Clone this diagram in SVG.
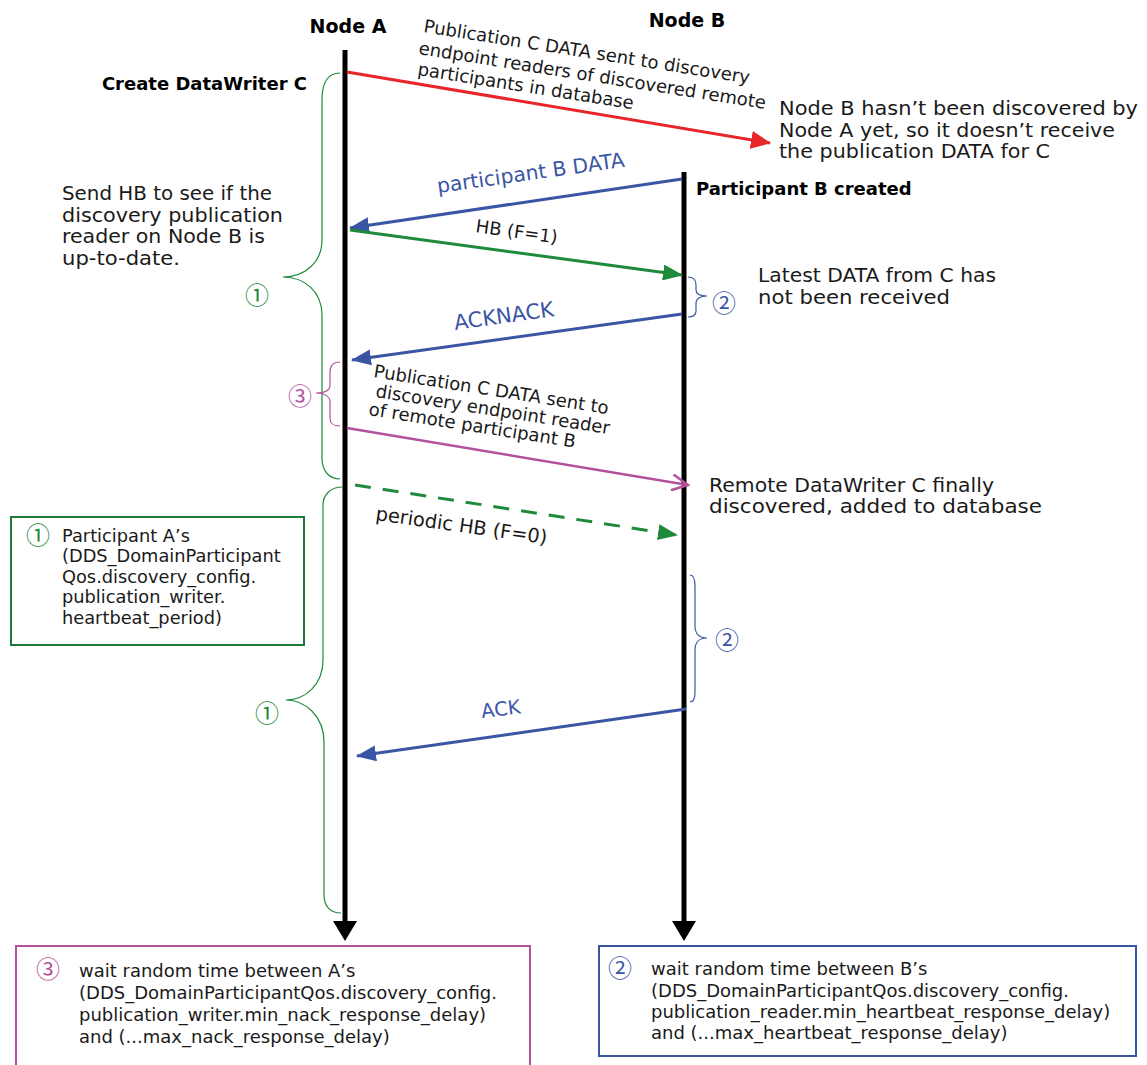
<svg xmlns="http://www.w3.org/2000/svg" width="1147" height="1065" viewBox="0 0 1147 1065">
<style>
  text { font-family: "DejaVu Sans", "Liberation Sans", sans-serif; fill: #1a1a1a; }
  .b { font-weight: bold; font-size: 18px; fill: #000; }
  .t { font-size: 19px; }
  .r { font-size: 18px; }
  .s { font-size: 17.8px; }
  .bx { font-size: 18px; }
  .bl { fill: #3b55a5; }
  .life { stroke: #000; stroke-width: 5; fill: none; }
  .brace { fill: none; stroke-width: 1.2; }
  .num { font-family: "Noto Sans CJK JP", "DejaVu Sans", sans-serif; font-size: 24px; text-anchor: middle; dominant-baseline: central; }
  .g { fill: #1f8a3c; }
  .p { fill: #b4519c; }
</style>
<defs>
  <marker id="mRed" markerUnits="userSpaceOnUse" viewBox="0 0 20 18" refX="19" refY="9" markerWidth="20" markerHeight="18" orient="auto">
    <path d="M0,0 L20,9 L0,18 z" fill="#e8262a"/>
  </marker>
  <marker id="mBlue" markerUnits="userSpaceOnUse" viewBox="0 0 20 16" refX="19" refY="8" markerWidth="20" markerHeight="16" orient="auto">
    <path d="M0,0 L20,8 L0,16 z" fill="#3b55a5"/>
  </marker>
  <marker id="mGreen" markerUnits="userSpaceOnUse" viewBox="0 0 20 16" refX="19" refY="8" markerWidth="20" markerHeight="16" orient="auto">
    <path d="M0,0 L20,8 L0,16 z" fill="#1f8a3c"/>
  </marker>
  <marker id="mPink" markerUnits="userSpaceOnUse" viewBox="0 0 20 18" refX="18" refY="9" markerWidth="20" markerHeight="18" orient="auto">
    <path d="M2,1 L18,9 L2,17" fill="none" stroke="#b4519c" stroke-width="2.5"/>
  </marker>
</defs>

<g id="nodeA">
  <text class="b" x="348" y="33" text-anchor="middle" style="font-size:19px">Node A</text>
  <line class="life" x1="345" y1="50" x2="345" y2="922"/>
  <path d="M333,921 L357,921 L345,941 z" fill="#000"/>
</g>
<g id="nodeB">
  <text class="b" x="687" y="27" text-anchor="middle" style="font-size:19px">Node B</text>
  <line class="life" x1="684" y1="172" x2="684" y2="922"/>
  <path d="M672,921 L696,921 L684,941 z" fill="#000"/>
</g>

<g id="labels">
  <text class="b" x="307" y="90" text-anchor="end">Create DataWriter C</text>
  <text class="b" x="696" y="195">Participant B created</text>
  <text class="t" x="62" y="200" textLength="210" lengthAdjust="spacingAndGlyphs">Send HB to see if the</text>
  <text class="t" x="62" y="222" textLength="221" lengthAdjust="spacingAndGlyphs">discovery publication</text>
  <text class="t" x="62" y="243" textLength="203" lengthAdjust="spacingAndGlyphs">reader on Node B is</text>
  <text class="t" x="62" y="265" textLength="118" lengthAdjust="spacingAndGlyphs">up-to-date.</text>
  <text class="t" x="779" y="115" textLength="359" lengthAdjust="spacingAndGlyphs">Node B hasn’t been discovered by</text>
  <text class="t" x="779" y="137" textLength="336" lengthAdjust="spacingAndGlyphs">Node A yet, so it doesn’t receive</text>
  <text class="t" x="779" y="158" textLength="271" lengthAdjust="spacingAndGlyphs">the publication DATA for C</text>
  <text class="t" x="758" y="282" textLength="238" lengthAdjust="spacingAndGlyphs">Latest DATA from C has</text>
  <text class="t" x="758" y="304" textLength="192" lengthAdjust="spacingAndGlyphs">not been received</text>
  <text class="t" x="709" y="492" textLength="285" lengthAdjust="spacingAndGlyphs">Remote DataWriter C finally</text>
  <text class="t" x="709" y="513" textLength="333" lengthAdjust="spacingAndGlyphs">discovered, added to database</text>
</g>

<g id="connectors">
  <line x1="347" y1="72" x2="770" y2="143" stroke="#e8262a" stroke-width="3" marker-end="url(#mRed)"/>
  <line x1="682" y1="179" x2="350" y2="228" stroke="#3b55a5" stroke-width="3" marker-end="url(#mBlue)"/>
  <line x1="350" y1="230" x2="682" y2="275" stroke="#1f8a3c" stroke-width="3" marker-end="url(#mGreen)"/>
  <line x1="682" y1="314" x2="352" y2="360" stroke="#3b55a5" stroke-width="3" marker-end="url(#mBlue)"/>
  <line x1="347" y1="428" x2="688" y2="485" stroke="#b4519c" stroke-width="2.5" marker-end="url(#mPink)"/>
  <line x1="355" y1="485" x2="677" y2="535" stroke="#1f8a3c" stroke-width="3" stroke-dasharray="16 12" marker-end="url(#mGreen)"/>
  <line x1="686" y1="709" x2="357" y2="756" stroke="#3b55a5" stroke-width="3" marker-end="url(#mBlue)"/>

  <text class="r" transform="translate(423,32) rotate(9)">Publication C DATA sent to discovery</text>
  <text class="r" transform="translate(418,54) rotate(9)">endpoint readers of discovered remote</text>
  <text class="r" transform="translate(417,75) rotate(9)">participants in database</text>
  <text class="r bl" transform="translate(438,193) rotate(-8)" style="font-size:20.3px">participant B DATA</text>
  <text class="r" transform="translate(475,232) rotate(8)">HB (F=1)</text>
  <text class="r bl" transform="translate(455,330) rotate(-8)" style="font-size:21px">ACKNACK</text>
  <text class="r" transform="translate(373,377) rotate(9)">Publication C DATA sent to</text>
  <text class="r" transform="translate(375,397) rotate(9)">discovery endpoint reader</text>
  <text class="r" transform="translate(368,415) rotate(9)">of remote participant B</text>
  <text class="r" transform="translate(375,520) rotate(8)" style="font-size:19.4px">periodic HB (F=0)</text>
  <text class="r bl" transform="translate(482,718) rotate(-7)" style="font-size:19.5px">ACK</text>
</g>

<g id="braces">
  <path class="brace" stroke="#1f8a3c" d="M340,73 C326,73 322,85 322,100 L322,240 C322,262 305,277 283,277 C305,277 322,292 322,315 L322,458 C322,472 330,479 340,479"/>
  <text class="num g" x="257" y="293">①</text>
  <path class="brace" stroke="#1f8a3c" d="M343,487 C330,487 323,495 323,505 L323,660 C323,685 305,700 286,700 C305,700 324,716 324,742 L324,895 C324,906 330,913 341,913"/>
  <text class="num g" x="267" y="711">①</text>
  <path class="brace" stroke="#b4519c" d="M340,362 C333,362 330,365 330,372 L330,385 C330,390 325,393 316,393 C325,393 330,397 330,402 L330,418 C330,424 333,426 340,426"/>
  <text class="num p" x="300" y="394">③</text>
  <path class="brace" stroke="#3b55a5" d="M688,277 C694,277 696,280 696,285 L696,290 C696,294 700,296 707,296 C700,296 696,299 696,303 L696,311 C696,315 694,317 688,317"/>
  <text class="num bl" x="724" y="301">②</text>
  <path class="brace" stroke="#3b55a5" d="M690,575 C694,575 695,580 695,586 L695,626 C695,634 700,638 707,638 C700,638 695,642 695,650 L695,692 C695,698 694,702 690,702"/>
  <text class="num bl" x="727" y="638">②</text>
</g>

<g id="noteHB">
  <rect x="11" y="517" width="293" height="128" fill="none" stroke="#1f7a3a" stroke-width="2"/>
  <text class="num g" x="38" y="533">①</text>
  <text class="s" x="62" y="542">Participant A’s</text>
  <text class="s" x="62" y="562">(DDS_DomainParticipant</text>
  <text class="s" x="62" y="583">Qos.discovery_config.</text>
  <text class="s" x="62" y="603">publication_writer.</text>
  <text class="s" x="62" y="624">heartbeat_period)</text>
</g>

<g id="noteNack">
  <rect x="16" y="946" width="514" height="140" fill="none" stroke="#b4519c" stroke-width="2"/>
  <text class="num p" x="48" y="967">③</text>
  <text class="bx" x="79" y="977">wait random time between A’s</text>
  <text class="bx" x="79" y="999">(DDS_DomainParticipantQos.discovery_config.</text>
  <text class="bx" x="79" y="1021">publication_writer.min_nack_response_delay)</text>
  <text class="bx" x="79" y="1043">and (...max_nack_response_delay)</text>
</g>

<g id="noteHbResp">
  <rect x="599" y="946" width="537" height="110" fill="none" stroke="#3b55a5" stroke-width="2"/>
  <text class="num bl" x="620" y="966">②</text>
  <text class="bx" x="651" y="975">wait random time between B’s</text>
  <text class="bx" x="651" y="997">(DDS_DomainParticipantQos.discovery_config.</text>
  <text class="bx" x="651" y="1018">publication_reader.min_heartbeat_response_delay)</text>
  <text class="bx" x="651" y="1039">and (...max_heartbeat_response_delay)</text>
</g>
</svg>
